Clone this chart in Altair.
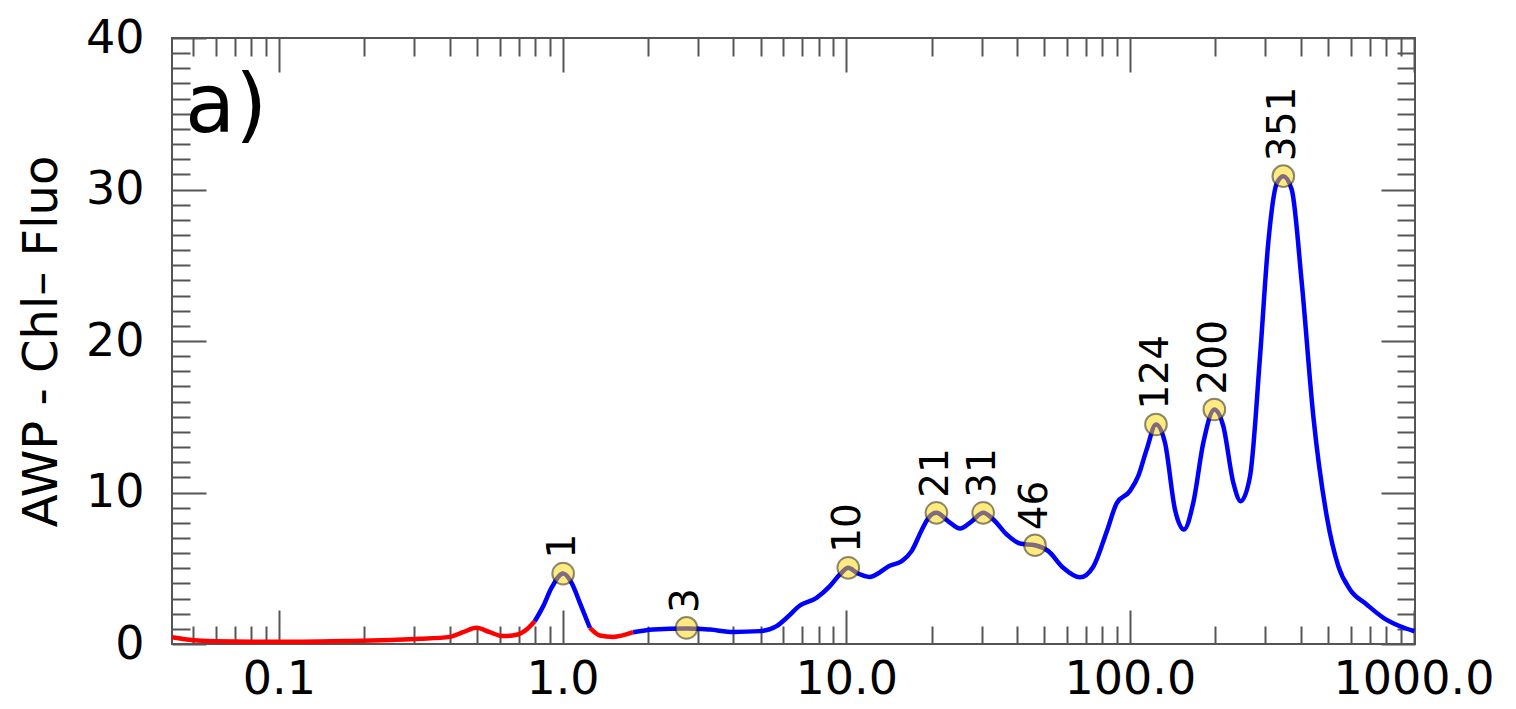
import altair as alt
import pandas as pd

# ---- data ----
curve_x = [0.042, 0.05, 0.06, 0.08, 0.12, 0.18, 0.25, 0.314, 0.40, 0.446, 0.497, 0.554, 0.617, 0.689,
           0.747, 0.798, 0.855, 0.914, 1.005, 1.076, 1.151, 1.248, 1.354, 1.507, 1.774, 2.087, 2.735,
           3.31, 4.0, 4.96, 5.68, 6.17, 6.87, 7.86, 8.76, 9.5, 10.17, 11.0, 12.1, 14.3, 15.7, 17.0,
           18.5, 19.5, 20.8, 22.9, 25.2, 27.7, 30.4, 33.0, 36.8, 41.0, 46.3, 51.6, 58.2, 66.7, 74.3,
           82.8, 89.9, 100, 107, 114.6, 123.6, 133, 144.2, 155.1, 167.3, 181.5, 198.5, 213.5, 231.6,
           245.9, 265.3, 287.7, 307.6, 329.4, 347.5, 372, 403.6, 443.3, 494.3, 543, 597, 683.6, 783,
           896.6, 1007]
curve_y = [0.45, 0.25, 0.18, 0.15, 0.15, 0.2, 0.27, 0.34, 0.47, 0.78, 1.07, 0.78, 0.52, 0.61,
           0.96, 1.5, 2.5, 3.7, 4.65, 4.04, 2.72, 1.07, 0.56, 0.47, 0.78, 0.96, 1.03,
           0.95, 0.8, 0.85, 1.18, 1.73, 2.54, 3.05, 3.82, 4.59, 5.03, 4.65, 4.43, 5.18, 5.47, 6.13,
           7.56, 8.33, 8.66, 8.1, 7.62, 8.1, 8.66, 8.22, 7.23, 6.63, 6.52, 6.13, 5.03, 4.4, 5.1,
           7.4, 9.3, 10.09, 11.08, 12.84, 14.49, 13.28, 8.88, 7.56, 9.32, 13.28, 15.48, 14.38, 10.64,
           9.43, 11.08, 19.0, 26.5, 30.4, 30.88, 30.0, 23.84, 15.04, 8.44, 5.14, 3.6, 2.61, 1.73,
           1.17, 0.84]
# colour changes along the curve (x where the colour switches)
break_x = [0.798, 1.248, 1.774]
seg_colors = ["red", "blue", "red", "blue"]

peak_x = [1.005, 2.735, 10.17, 20.8, 30.4, 46.3, 123.6, 198.5, 347.5]
peak_y = [4.65, 1.06, 5.03, 8.66, 8.66, 6.52, 14.49, 15.48, 30.88]
peak_labels = ["1", "3", "10", "21", "31", "46", "124", "200", "351"]

x_major = [0.1, 1, 10, 100, 1000]
x_minor = [m * 10 ** e for e in range(-2, 3) for m in range(2, 10) if 0.042 <= m * 10 ** e <= 1012]
y_major = [0, 10, 20, 30, 40]
y_minor = [v for v in range(0, 41) if v % 10 != 0]

# ---- build tables ----
bounds = [0.0] + break_x + [1e9]
rows = []
for s in range(len(seg_colors)):
    lo, hi = bounds[s], bounds[s + 1]
    for xv, yv in zip(curve_x, curve_y):
        if lo <= xv <= hi:
            rows.append({"x": xv, "y": yv, "seg": s, "col": seg_colors[s]})
curve = pd.DataFrame(rows)
peaks = pd.DataFrame({"x": peak_x, "y": peak_y, "label": peak_labels})

FONT = "DejaVu Sans"
TICK = "#555555"
MAJ, MIN = 34, 18

x_scale = alt.Scale(type="log", domain=[0.042, 1012], nice=False)
y_scale = alt.Scale(domain=[0, 40], nice=False, zero=False)


def ax(orient, values, size, labels=False, fmt=None, title=None, **kw):
    params = dict(orient=orient, values=values, tickSize=size, offset=-size, domain=False,
                  grid=False, labels=labels, tickColor=TICK, tickWidth=2, title=title)
    if fmt:
        params["format"] = fmt
    params.update(kw)
    return alt.Axis(**params)


red = alt.Chart(curve).transform_filter(alt.datum.col == "red").mark_line(
    color="#ff0000", strokeWidth=4.5, interpolate="monotone"
).encode(
    x=alt.X("x:Q", scale=x_scale,
            axis=ax("bottom", x_major, MAJ, labels=True, fmt=".1f", labelFont=FONT,
                    labelFontSize=46, labelPadding=13, labelColor="black")),
    y=alt.Y("y:Q", scale=y_scale,
            axis=ax("left", y_major, MAJ, labels=True, fmt="d", labelFont=FONT,
                    labelFontSize=46, labelPadding=28, labelColor="black",
                    title="AWP - Chl– Fluo", titleFont=FONT, titleFontSize=48,
                    titleFontWeight="normal", titleColor="black", titlePadding=19)),
    detail="seg:N",
)

blue = alt.Chart(curve).transform_filter(alt.datum.col == "blue").mark_line(
    color="#0000ff", strokeWidth=4.5, interpolate="monotone"
).encode(
    x=alt.X("x:Q", scale=x_scale, axis=ax("bottom", x_minor, MIN)),
    y=alt.Y("y:Q", scale=y_scale, axis=ax("left", y_minor, MIN)),
    detail="seg:N",
)

pts = alt.Chart(peaks).mark_point(
    shape="circle", filled=True, fill="#FFD700", fillOpacity=0.5,
    stroke="black", strokeOpacity=0.45, strokeWidth=2, size=470, opacity=1
).encode(
    x=alt.X("x:Q", scale=x_scale, axis=ax("top", x_major, MAJ)),
    y=alt.Y("y:Q", scale=y_scale, axis=ax("right", y_major, MAJ)),
)

lbl = alt.Chart(peaks).mark_text(
    angle=270, align="left", baseline="middle", dx=15, fontSize=39, font=FONT, color="black"
).encode(
    x=alt.X("x:Q", scale=x_scale, axis=ax("top", x_minor, MIN)),
    y=alt.Y("y:Q", scale=y_scale, axis=ax("right", y_minor, MIN)),
    text="label:N",
)

panel = alt.Chart(pd.DataFrame({"t": ["a)"]})).mark_text(
    align="left", baseline="alphabetic", fontSize=82, font=FONT, color="black"
).encode(x=alt.value(13), y=alt.value(94), text="t:N")

chart = alt.layer(red, blue, pts, lbl, panel).resolve_axis(
    x="independent", y="independent"
).properties(
    width=1243, height=606,
    autosize=alt.AutoSizeParams(type="none"),
    padding={"left": 164, "top": 30, "right": 90, "bottom": 62},
).configure_view(stroke="#555555", strokeWidth=2)

chart.save("out.html", embed_options={"renderer": "svg", "actions": False})
